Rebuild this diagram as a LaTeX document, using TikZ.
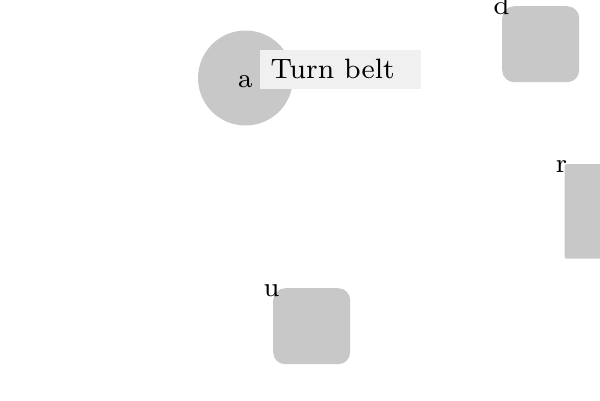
\documentclass[tikz,border=0pt]{standalone}
\usepackage{fontspec}
\setmainfont{lmroman8-regular.otf}
\begin{document}
\begin{tikzpicture}[x=1bp,y=-1bp,
  shapefill/.style={fill=shapegray, draw=none},
  lbl/.style={inner sep=0pt, anchor=base, font=\fontsize{27bp}{33bp}\selectfont},
]
\definecolor{shapegray}{HTML}{C8C8C8}
\definecolor{notegray}{HTML}{F0F0F0}
\useasboundingbox (0,0) rectangle (600,400);
% circle a
\node[shapefill, circle, minimum size=95bp, inner sep=0pt] (a) at (245.5,78) {};
\node[lbl] (alabel) at (245.3,87) {a};
% note
\node[fill=notegray, inner sep=0pt, minimum width=161bp, minimum height=39bp, anchor=north west] (note) at (260,50) {};
\node[lbl, anchor=base west, font=\fontsize{28bp}{34bp}\selectfont] (notetext) at (270.5,78.5) {Turn belt};
% d
\node[shapefill, rounded corners=12bp, minimum width=77bp, minimum height=76bp, inner sep=0pt, anchor=north west] (d) at (502,6) {};
\node[lbl] (dlabel) at (501.5,14.5) {d};
% r
\node[shapefill, rounded corners=2bp, minimum width=46bp, minimum height=94.5bp, inner sep=0pt, anchor=north west] (r) at (564.5,164) {};
\node[lbl] (rlabel) at (561.5,172) {r};
% u
\node[shapefill, rounded corners=12bp, minimum width=77bp, minimum height=76bp, inner sep=0pt, anchor=north west] (u) at (273,288) {};
\node[lbl] (ulabel) at (271.5,296) {u};
\end{tikzpicture}
\end{document}
